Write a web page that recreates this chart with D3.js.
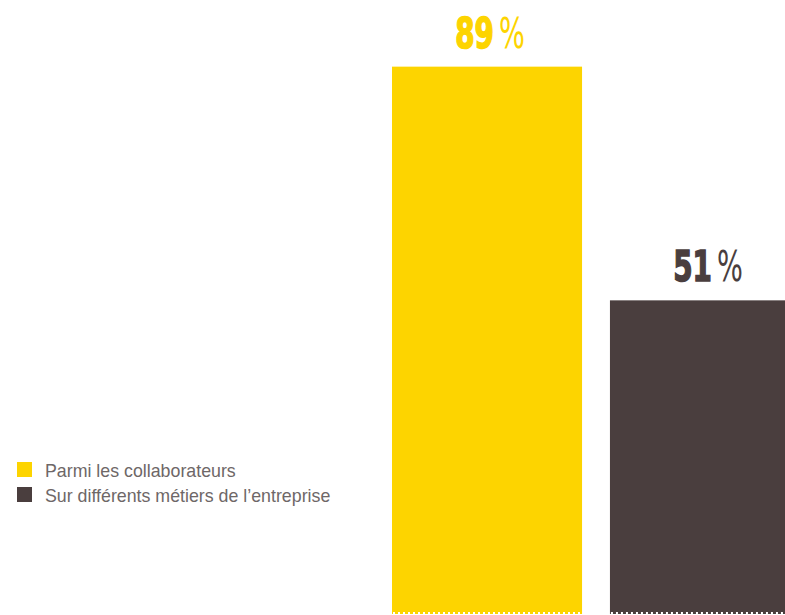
<!DOCTYPE html>
<html>
<head>
<meta charset="utf-8">
<script src="https://cdn.jsdelivr.net/npm/d3@7"></script>
<style>
  body { margin: 0; background: #fff; }
  svg { display: block; }
</style>
</head>
<body>
<div id="chart"></div>
<script>
// data
const categories = ["Parmi les collaborateurs", "Sur différents métiers de l’entreprise"];
const values = [89, 51];
const colors = ["#fdd400", "#4a3e3e"];

const width = 785, height = 615;

const svg = d3.select("#chart")
  .append("svg")
    .attr("width", width)
    .attr("height", height);

// x: two wide bars, second one runs off the right edge
const x = d3.scaleBand()
    .domain(categories)
    .range([392, 800])
    .paddingInner(0.128)
    .paddingOuter(0);

// y: percent
const y = d3.scaleLinear()
    .domain([0, 100])
    .range([614, -1]);

// bars
svg.selectAll("rect.bar")
  .data(categories)
  .join("rect")
    .attr("class", "bar")
    .attr("x", d => x(d))
    .attr("width", x.bandwidth())
    .attr("y", (d, i) => y(values[i]))
    .attr("height", (d, i) => y(0) - y(values[i]))
    .attr("fill", (d, i) => colors[i]);

// dotted white edge at the bottom of the bars
svg.selectAll("line.edge")
  .data(categories)
  .join("line")
    .attr("class", "edge")
    .attr("x1", d => x(d) + 1)
    .attr("x2", d => x(d) + x.bandwidth())
    .attr("y1", y(0) - 1)
    .attr("y2", y(0) - 1)
    .attr("stroke", "#fff")
    .attr("stroke-width", 2)
    .attr("stroke-dasharray", "2,3");

// value labels, squeezed horizontally to look condensed
const labels = svg.selectAll("g.value")
  .data(categories)
  .join("g")
    .attr("class", "value")
    .attr("transform", (d, i) =>
      `translate(${x(d) + x.bandwidth() / 2 + 3},${y(values[i]) - 19}) scale(0.72,1)`)
  .append("text")
    .attr("text-anchor", "middle")
    .attr("fill", (d, i) => colors[i])
    .style("font-family", "'DejaVu Sans Condensed', 'DejaVu Sans', sans-serif")
    .style("font-size", "43px")
    .style("font-weight", "bold");

labels.append("tspan")
    .attr("stroke", (d, i) => colors[i])
    .attr("stroke-width", 1.5)
    .text((d, i) => values[i]);
labels.append("tspan")
    .attr("dx", 7)
    .style("font-weight", "normal")
    .style("font-size", "42px")
    .text("%");

// legend
const legend = svg.append("g")
    .attr("transform", "translate(17,462)");

const item = legend.selectAll("g")
  .data(categories)
  .join("g")
    .attr("transform", (d, i) => `translate(0,${i * 25})`);

item.append("rect")
    .attr("width", 15)
    .attr("height", 15)
    .attr("fill", (d, i) => colors[i]);

item.append("text")
    .attr("x", 28)
    .attr("y", 15)
    .attr("fill", "#6e6767")
    .style("font-family", "'Liberation Sans', Arial, sans-serif")
    .style("font-size", "17.8px")
    .text(d => d);
</script>
</body>
</html>
